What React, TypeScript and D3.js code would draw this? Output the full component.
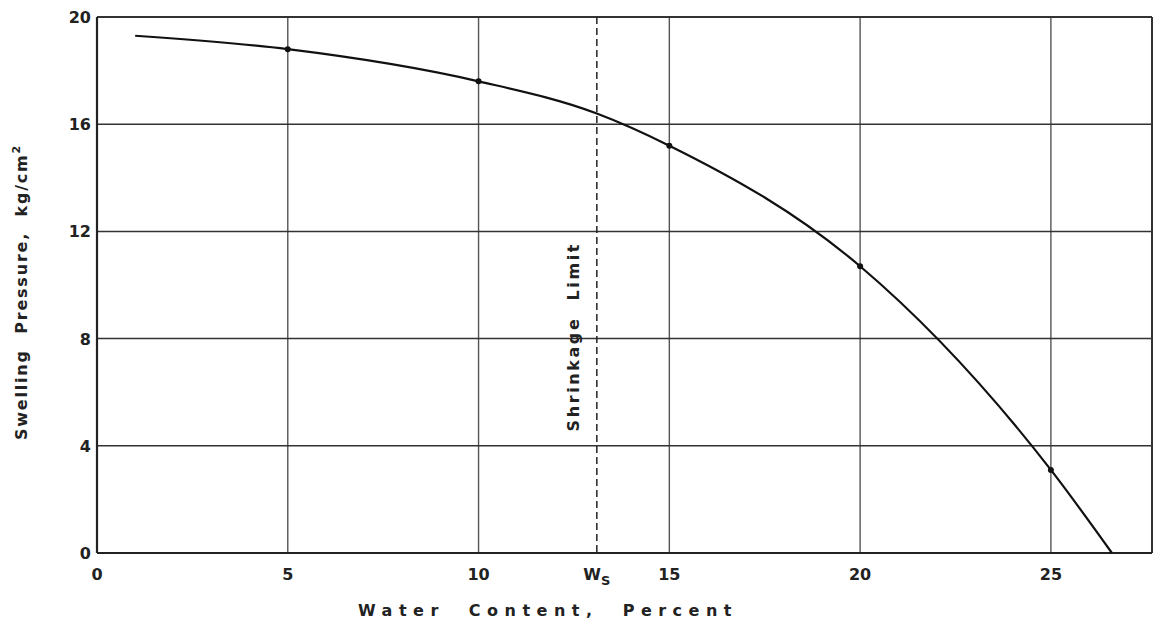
import React from "react";
import * as d3 from "d3";

// Measured swelling pressure vs. water content
const waterContent = [5, 10, 15, 20, 25];
const pressure = [18.8, 17.6, 15.2, 10.7, 3.1];

// Fitted curve through the measurements, extended to both ends
const curveX = [1, 5, 10, 13.1, 15, 20, 25, 26.6];
const curveY = [19.3, 18.8, 17.6, 16.4, 15.2, 10.7, 3.1, 0];

const xTicks = [0, 5, 10, 15, 20, 25];
const yTicks = [0, 4, 8, 12, 16, 20];
const shrinkageLimit = 13.1;

const W = 1155;
const H = 623;
const margin = { left: 97, right: 3, top: 17, bottom: 70 };

export default function App() {
  const x = d3.scaleLinear().domain([0, 27.65]).range([margin.left, W - margin.right]);
  const y = d3.scaleLinear().domain([0, 20]).range([H - margin.bottom, margin.top]);

  const line = d3
    .line<number>()
    .x((_, i) => x(curveX[i]))
    .y((d) => y(d))
    .curve(d3.curveMonotoneX);

  const font = "'DejaVu Sans', sans-serif";
  const x0 = x(0);
  const x1 = x(27.65);
  const yTop = y(20);
  const yBot = y(0);

  return (
    <svg
      width={W}
      height={H}
      style={{ position: "absolute", left: 0, top: 0, background: "#fff" }}
      fontFamily={font}
    >
      {/* vertical grid */}
      {xTicks.slice(1).map((t) => (
        <line key={"vx" + t} x1={x(t)} x2={x(t)} y1={yTop} y2={yBot} stroke="#555" strokeWidth={1.4} />
      ))}
      {/* horizontal grid */}
      {yTicks.slice(1, -1).map((t) => (
        <line key={"hy" + t} x1={x0} x2={x1} y1={y(t)} y2={y(t)} stroke="#333" strokeWidth={1.5} />
      ))}
      {/* frame */}
      <line x1={x0} x2={x1} y1={yTop} y2={yTop} stroke="#333" strokeWidth={2} />
      <line x1={x1} x2={x1} y1={yTop} y2={yBot} stroke="#333" strokeWidth={2} />
      <line x1={x0} x2={x0} y1={yTop} y2={yBot} stroke="#222" strokeWidth={2.2} />
      <line x1={x0} x2={x1} y1={yBot} y2={yBot} stroke="#222" strokeWidth={2.2} />

      {/* shrinkage limit */}
      <line
        x1={x(shrinkageLimit)}
        x2={x(shrinkageLimit)}
        y1={yTop}
        y2={yBot}
        stroke="#222"
        strokeWidth={1.5}
        strokeDasharray="7,4"
      />
      <text
        transform={`translate(${x(shrinkageLimit) - 18},${y(8.07)}) rotate(-90)`}
        textAnchor="middle"
        fontSize={16}
        fontWeight="bold"
        fill="#222"
        letterSpacing={2.6}
        wordSpacing={8}
      >
        Shrinkage Limit
      </text>

      {/* curve */}
      <path d={line(curveY) || ""} fill="none" stroke="#111" strokeWidth={2.2} />
      {waterContent.map((w, i) => (
        <circle key={"p" + w} cx={x(w)} cy={y(pressure[i])} r={3} fill="#111" />
      ))}

      {/* tick labels */}
      {xTicks.map((t) => (
        <text key={"xt" + t} x={x(t)} y={yBot + 27} textAnchor="middle" fontSize={16} fontWeight="bold" fill="#222">
          {t}
        </text>
      ))}
      <text x={x(shrinkageLimit)} y={yBot + 27} textAnchor="middle" fontSize={16} fontWeight="bold" fill="#222">
        W
        <tspan fontSize={13} dy={5}>S</tspan>
      </text>
      {yTicks.map((t) => (
        <text key={"yt" + t} x={x0 - 6} y={y(t) + 6} textAnchor="end" fontSize={16} fontWeight="bold" fill="#222">
          {t}
        </text>
      ))}

      {/* axis titles */}
      <text
        x={548}
        y={616}
        textAnchor="middle"
        fontSize={16}
        fontWeight="bold"
        fill="#222"
        letterSpacing={6.5}
        wordSpacing={12}
      >
        Water Content, Percent
      </text>
      <text
        transform={`translate(27,292) rotate(-90)`}
        textAnchor="middle"
        fontSize={16}
        fontWeight="bold"
        fill="#222"
        letterSpacing={1.8}
        wordSpacing={8}
      >
        Swelling Pressure, kg/cm
        <tspan fontSize={11} dy={-7}>2</tspan>
      </text>
    </svg>
  );
}
